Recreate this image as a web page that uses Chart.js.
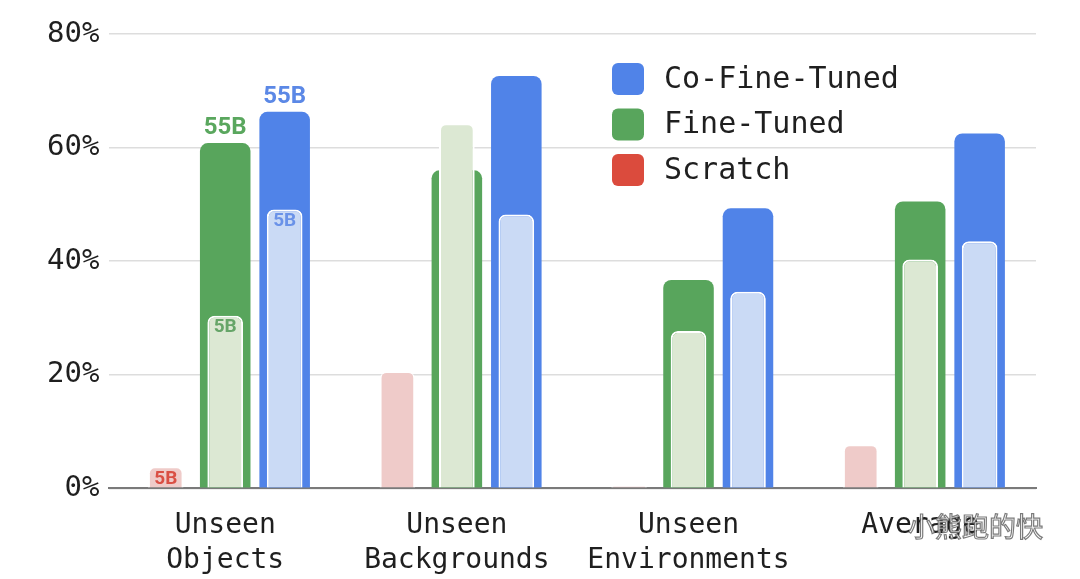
<!DOCTYPE html>
<html><head><meta charset="utf-8">
<script src="https://cdn.jsdelivr.net/npm/chart.js@4.4.0/dist/chart.umd.min.js"></script>
<style>html,body{margin:0;padding:0;background:#fff;} #wrap{width:1080px;height:579px;position:relative;}</style>
</head><body><div id="wrap"><canvas id="c" width="1080" height="579"></canvas></div>
<script>
// ---- data ----
const categories = [["Unseen","Objects"],["Unseen","Backgrounds"],["Unseen","Environments"],"Average"];
const seriesNames = ["Co-Fine-Tuned","Fine-Tuned","Scratch"];
const seriesColors = ["#5083E8","#58A55C","#DB4B3D"];
const scratch5B      = [3.7, 20.5, 0.4, 7.6];
const fineTuned5B    = [30.4, 64.3, 27.7, 40.3];
const fineTuned55B   = [60.8, 56.0, 36.7, 50.5];
const coFineTuned5B  = [49.1, 48.2, 34.6, 43.5];
const coFineTuned55B = [66.3, 72.6, 49.3, 62.5];
const scratch5BLabels      = ["5B","","",""];
const fineTuned5BLabels    = ["5B","","",""];
const fineTuned55BLabels   = ["55B","","",""];
const coFineTuned5BLabels  = ["5B","","",""];
const coFineTuned55BLabels = ["55B","","",""];
const yTickValues = [0,20,40,60,80];
const watermarkText = "小熊跑的快";

const CAT_PCT = 0.77;
const smallBar = (extra) => Object.assign({
  borderColor:'#ffffff',
  borderWidth:{top:2,left:2,right:2,bottom:0},
  borderSkipped:'bottom',
  borderRadius:{topLeft:7,topRight:7,bottomLeft:0,bottomRight:0},
  barPercentage:0.6,
  categoryPercentage:CAT_PCT,
  labelInside:true
}, extra);
const bigBar = (extra) => Object.assign({
  borderWidth:0,
  borderSkipped:'bottom',
  borderRadius:{topLeft:8,topRight:8,bottomLeft:0,bottomRight:0},
  barPercentage:0.85,
  categoryPercentage:CAT_PCT,
  labelInside:false
}, extra);

const datasets = [
  smallBar({label:'Scratch 5B', data:scratch5B, stack:'scratch', backgroundColor:'#EFCBC9', valueLabels:scratch5BLabels, labelColor:'#DA4F44', borderWidth:{top:1,left:2,right:2,bottom:0}}),
  smallBar({label:'Fine-Tuned 5B', data:fineTuned5B, stack:'ft', backgroundColor:'#DCE8D3', valueLabels:fineTuned5BLabels, labelColor:'#66A568'}),
  smallBar({label:'Co-Fine-Tuned 5B', data:coFineTuned5B, stack:'cft', backgroundColor:'#CADAF5', valueLabels:coFineTuned5BLabels, labelColor:'#6A92E8'}),
  bigBar({label:'Fine-Tuned 55B', data:fineTuned55B, stack:'ft', backgroundColor:'#58A55C', valueLabels:fineTuned55BLabels, labelColor:'#5AA75E'}),
  bigBar({label:'Co-Fine-Tuned 55B', data:coFineTuned55B, stack:'cft', backgroundColor:'#5083E8', valueLabels:coFineTuned55BLabels, labelColor:'#5B88E6'})
];

const valueLabelPlugin = {
  id:'valueLabels',
  afterDatasetsDraw(chart){
    const ctx = chart.ctx;
    chart.data.datasets.forEach((ds, di) => {
      const meta = chart.getDatasetMeta(di);
      if (!ds.valueLabels) return;
      meta.data.forEach((el, i) => {
        const t = ds.valueLabels[i];
        if (!t) return;
        ctx.save();
        ctx.fillStyle = ds.labelColor;
        ctx.textAlign = 'center';
        ctx.textBaseline = 'middle';
        if (ds.labelInside) {
          ctx.font = 'bold 19px Roboto, "Liberation Sans", sans-serif';
          ctx.fillText(t, el.x, el.y + 12);
        } else {
          ctx.font = 'bold 24px Roboto, "Liberation Sans", sans-serif';
          ctx.fillText(t, el.x, el.y - 15);
        }
        ctx.restore();
      });
    });
  }
};

const legendPlugin = {
  id:'innerLegend',
  afterDraw(chart){
    const ctx = chart.ctx;
    const x0 = 612, y0 = 79, gap = 45.5, sz = 32;
    ctx.save();
    seriesNames.forEach((name, i) => {
      const cy = y0 + i*gap;
      ctx.fillStyle = seriesColors[i];
      ctx.beginPath();
      ctx.roundRect(x0, cy - sz/2, sz, sz, 6);
      ctx.fill();
      ctx.fillStyle = '#1f1f1f';
      ctx.font = '30px "DejaVu Sans Mono", monospace';
      ctx.textAlign = 'left';
      ctx.textBaseline = 'middle';
      ctx.fillText(name, x0 + 52, cy + 1);
    });
    // watermark
    ctx.font = '27px "Noto Sans CJK SC", sans-serif';
    ctx.textAlign = 'left';
    ctx.textBaseline = 'middle';
    ctx.lineWidth = 1.2;
    ctx.strokeStyle = 'rgba(90,90,90,0.8)';
    ctx.fillStyle = 'rgba(255,255,255,0.9)';
    ctx.fillText(watermarkText, 908, 527);
    ctx.strokeText(watermarkText, 908, 527);
    ctx.restore();
  }
};

new Chart(document.getElementById('c'), {
  type:'bar',
  data:{ labels:categories, datasets },
  plugins:[valueLabelPlugin, legendPlugin],
  options:{
    responsive:false,
    devicePixelRatio:1,
    animation:false,
    layout:{ padding:{ left:37, right:44, top:34, bottom:-19 } },
    plugins:{ legend:{display:false}, tooltip:{enabled:false} },
    scales:{
      x:{
        stacked:true,
        offset:true,
        grid:{ display:false, drawTicks:false },
        border:{ display:true, color:'#7a7a7a', width:2 },
        ticks:{ color:'#1f1f1f', padding:19, font:{ family:'"DejaVu Sans Mono", monospace', size:28, lineHeight:1.28 }, maxRotation:0, autoSkip:false }
      },
      y:{
        stacked:false,
        min:0, max:80,
        afterBuildTicks(axis){ axis.ticks = yTickValues.map(v => ({value:v})); },
        grid:{ color:'#dddddd', lineWidth:1.5, drawTicks:false },
        border:{ display:false },
        ticks:{ color:'#1f1f1f', padding:10, font:{ family:'"DejaVu Sans Mono", monospace', size:29 }, callback:(v) => v + '%' }
      }
    }
  }
});
</script>
</body></html>
